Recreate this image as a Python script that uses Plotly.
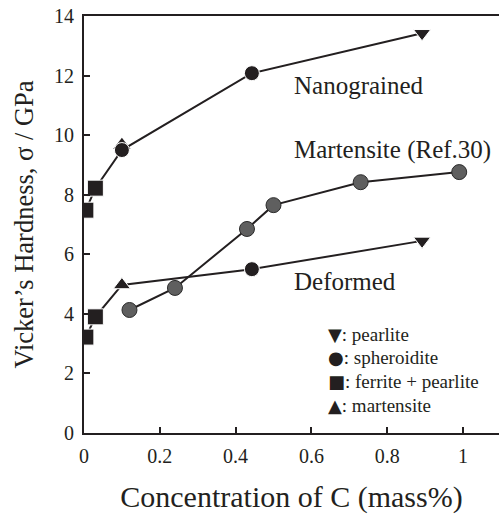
import plotly.graph_objects as go

# Nanograined series (C mass%, hardness GPa)
nano_x = [0.005, 0.03, 0.10, 0.443, 0.892]
nano_y = [7.48, 8.22, 9.50, 12.08, 13.42]
nano_sym = ["square", "square", "circle", "circle", "triangle-down"]
nano_mart_x = [0.10]
nano_mart_y = [9.66]

# Deformed series
def_x = [0.005, 0.03, 0.10, 0.443, 0.892]
def_y = [3.22, 3.90, 4.97, 5.50, 6.45]
def_sym = ["square", "square", "triangle-up", "circle", "triangle-down"]

# Martensite (Ref.30)
mart_x = [0.12, 0.24, 0.43, 0.50, 0.73, 0.99]
mart_y = [4.13, 4.87, 6.85, 7.65, 8.42, 8.76]

x_ticks = [0, 0.2, 0.4, 0.6, 0.8, 1.0]
x_ticklabels = ["0", "0.2", "0.4", "0.6", "0.8", "1"]
y_ticks = [0, 2, 4, 6, 8, 10, 12, 14]

legend_glyphs = ["▼", "●", "■", "▲"]
legend_names = [": pearlite", ": spheroidite", ": ferrite + pearlite", ": martensite"]

INK = "#231f20"
FONT = "Liberation Serif, Times New Roman, serif"

def sizes(syms):
    return [15 if s.startswith("triangle") else (16 if s == "square" else 15) for s in syms]

fig = go.Figure()

fig.add_trace(go.Scatter(x=mart_x, y=mart_y, mode="lines+markers",
                         line=dict(color=INK, width=2),
                         marker=dict(symbol="circle", size=15, color="#5f5f5f", opacity=1,
                                     line=dict(color="#2a2a2a", width=1)),
                         showlegend=False))
fig.add_trace(go.Scatter(x=nano_mart_x, y=nano_mart_y, mode="markers",
                         marker=dict(symbol="triangle-up", size=15, color=INK, opacity=1),
                         showlegend=False))
fig.add_trace(go.Scatter(x=nano_x, y=nano_y, mode="lines+markers",
                         line=dict(color=INK, width=2),
                         marker=dict(symbol=nano_sym, size=sizes(nano_sym), color=INK, opacity=1),
                         showlegend=False))
fig.add_trace(go.Scatter(x=def_x, y=def_y, mode="lines+markers",
                         line=dict(color=INK, width=2),
                         marker=dict(symbol=def_sym, size=sizes(def_sym), color=INK, opacity=1),
                         showlegend=False))

labels = [("Nanograined", 0.549, 11.68), ("Martensite (Ref.30)", 0.549, 9.50),
          ("Deformed", 0.549, 5.07)]
for txt, lx, ly in labels:
    fig.add_annotation(x=lx, y=ly, text=txt, showarrow=False, xanchor="left",
                       yanchor="middle", font=dict(family=FONT, size=25, color=INK))

legend_rows_y = [3.31, 2.52, 1.73, 0.94]
for g, name, ry in zip(legend_glyphs, legend_names, legend_rows_y):
    fig.add_annotation(x=0.638, y=ry, xanchor="left", yanchor="middle", showarrow=False,
                       text=f"<span style='font-family:DejaVu Sans;font-size:18px'>{g}</span>{name}",
                       font=dict(family=FONT, size=19, color=INK))

fig.update_layout(
    width=499, height=515,
    margin=dict(l=84, r=0, t=16, b=82),
    plot_bgcolor="white", paper_bgcolor="white",
    font=dict(family=FONT, color=INK),
    showlegend=False,
)
fig.update_xaxes(range=[0, 1.095], tickvals=x_ticks, ticktext=x_ticklabels,
                 ticks="inside", ticklen=6, tickwidth=1.5, tickcolor=INK,
                 showline=True, linewidth=2, linecolor=INK, mirror=True,
                 showgrid=False, zeroline=False, ticklabelstandoff=4,
                 tickfont=dict(family=FONT, size=20, color=INK),
                 title=dict(text="Concentration of C (mass%)",
                            font=dict(family=FONT, size=30, color=INK), standoff=20))
fig.update_yaxes(range=[0, 14], tickvals=y_ticks,
                 ticks="inside", ticklen=6, tickwidth=1.5, tickcolor=INK,
                 showline=True, linewidth=2, linecolor=INK, mirror=False,
                 showgrid=False, zeroline=False, ticklabelstandoff=4,
                 tickfont=dict(family=FONT, size=20, color=INK),
                 title=dict(text="Vicker’s Hardness, σ / GPa",
                            font=dict(family=FONT, size=26.5, color=INK), standoff=13))

fig.write_html("out.html")
